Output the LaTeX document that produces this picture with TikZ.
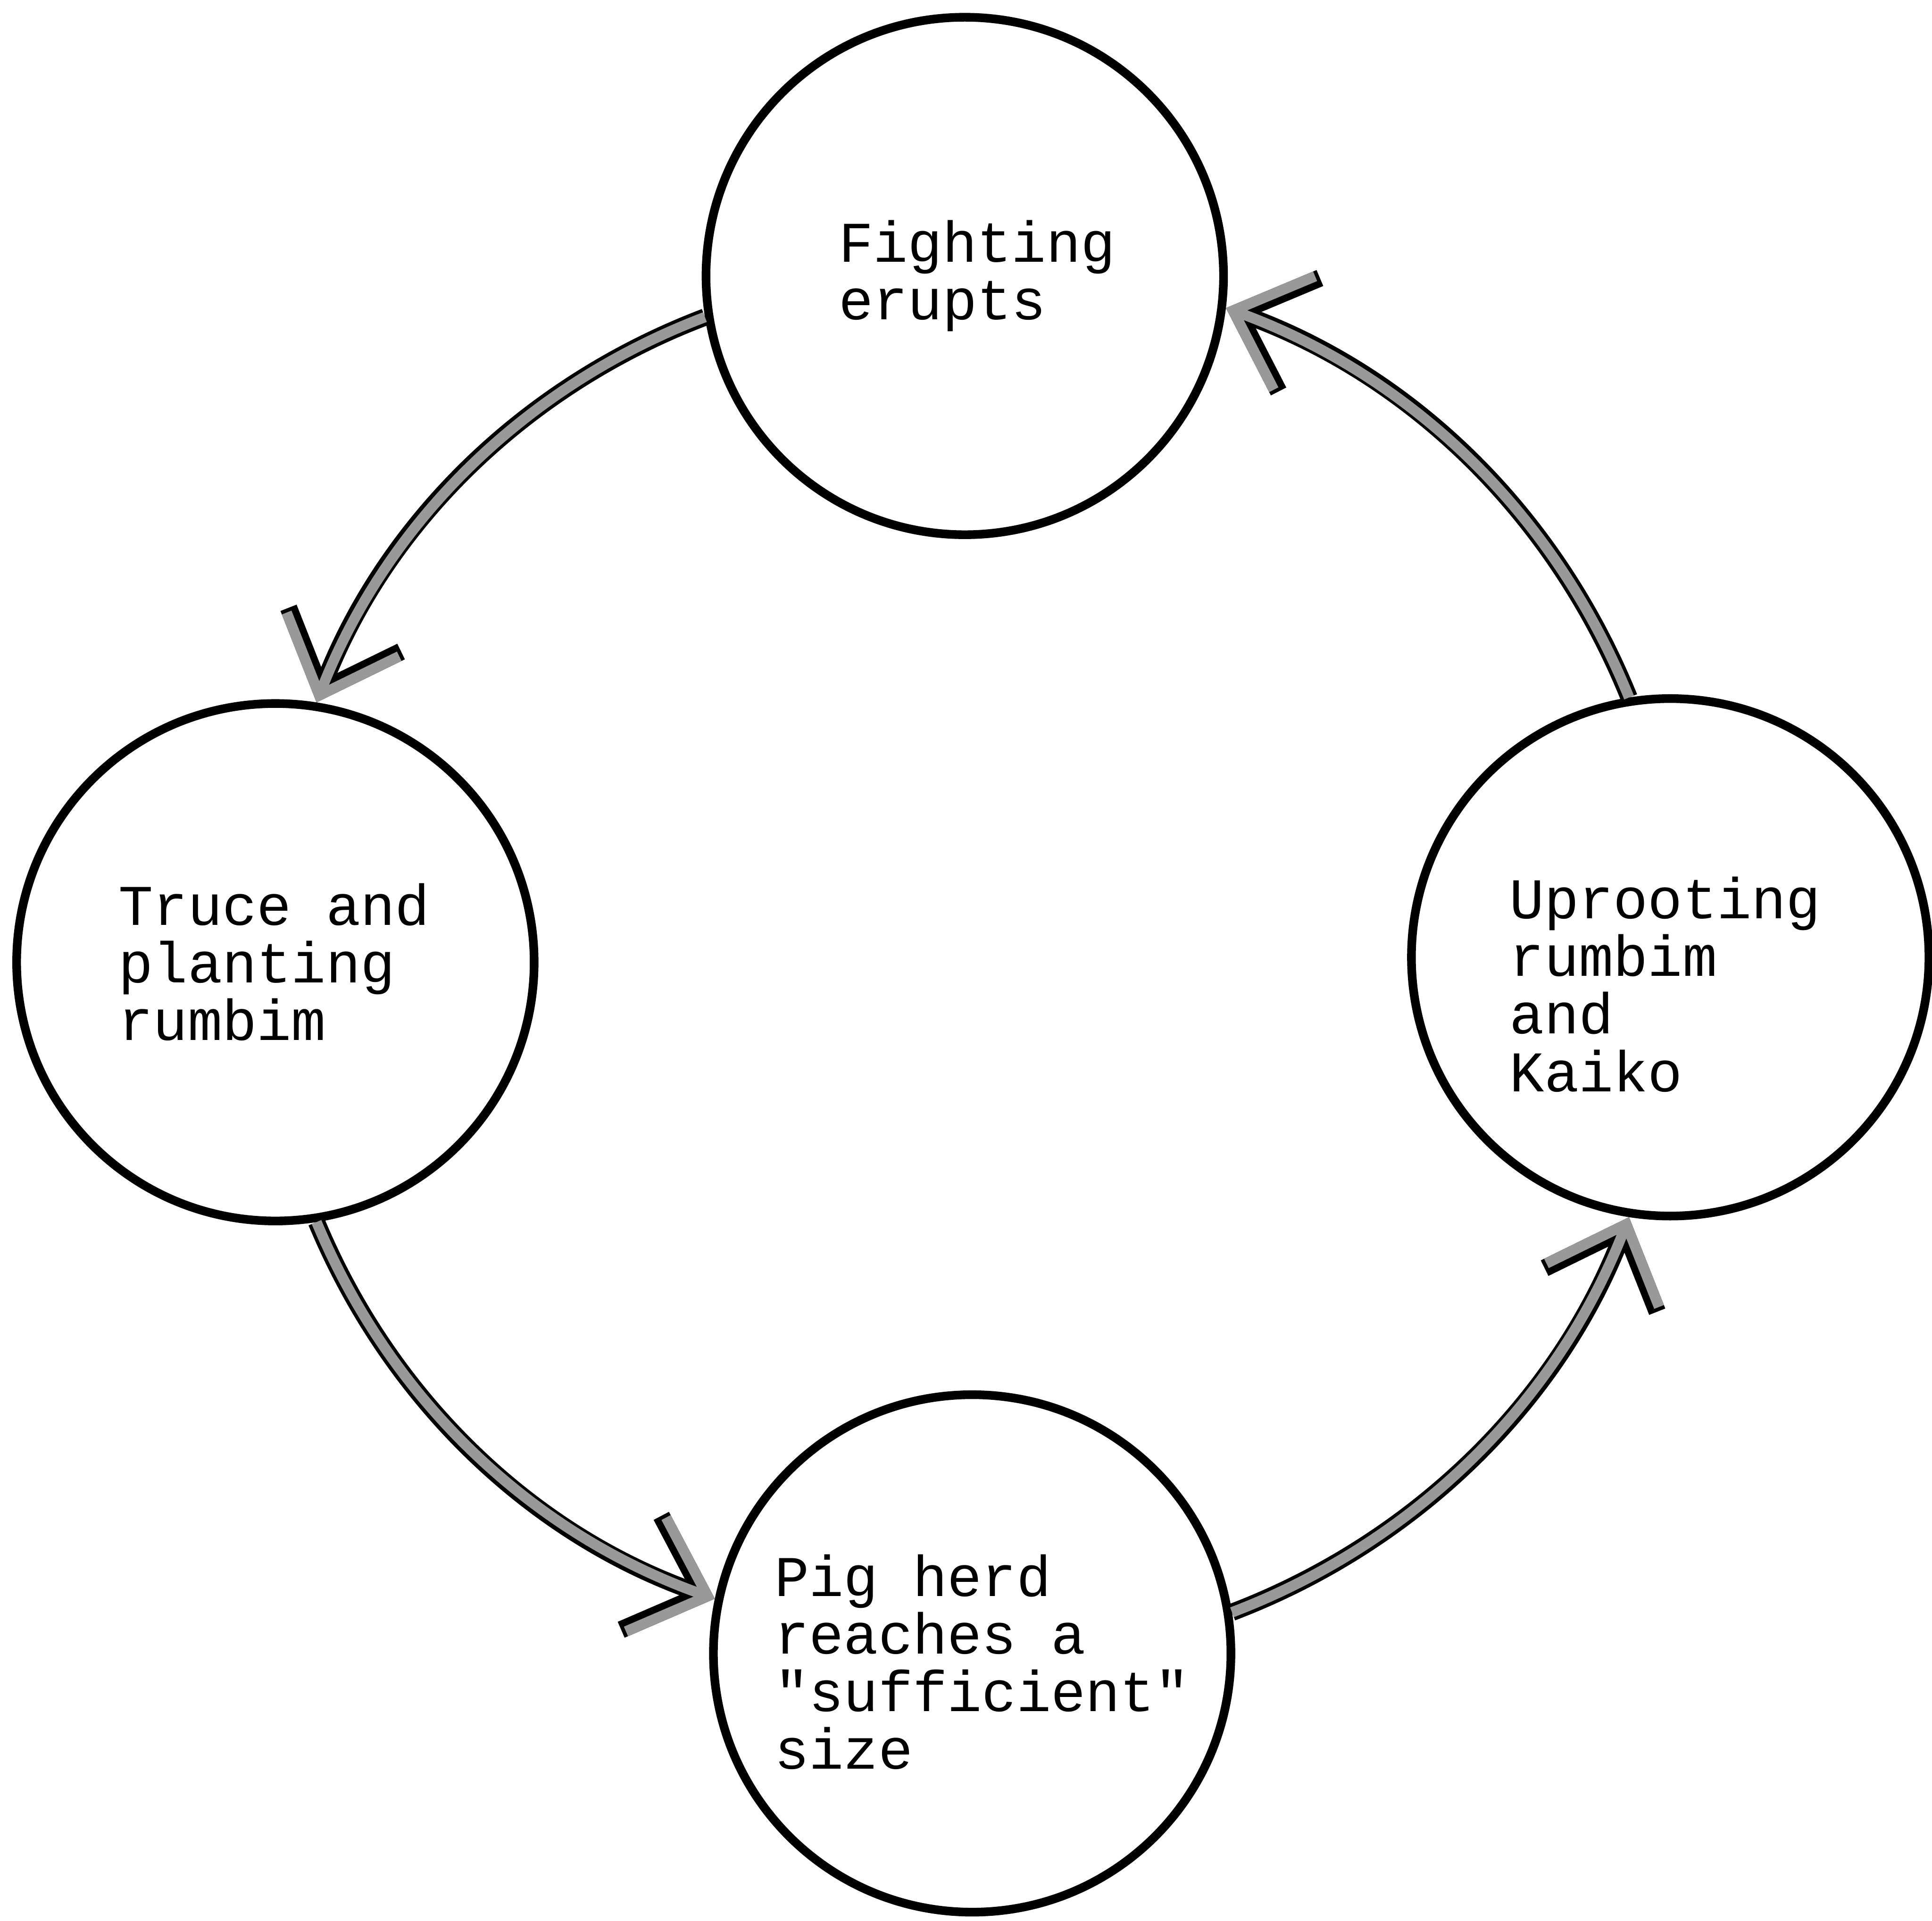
\documentclass[tikz,border=0pt]{standalone}
\usepackage{fontspec}
\setmonofont{Liberation Mono}
\usepackage{tikz}
\usetikzlibrary{
  arrows.meta
}
\tikzset{stage/.style={
  circle,
  draw, line width=2pt,
  minimum size=4.2cm, inner sep=0pt
}}
\tikzset{words/.style={
  align=left, inner sep=0pt,
  font=\fontsize{13.3}{13.3}\selectfont
}}
\tikzset{flow/.style={
  line width=2.4pt, draw=black!40,
  -{Straight Barb[length=5.3mm,width=9.8mm]},
  preaction={draw=black, line width=4pt, -{Straight Barb[length=5.3mm,width=9.8mm]}}
}}
\providecommand{\typed}[1]{{\ttfamily #1}}

\begin{document}
\begin{tikzpicture}
    \useasboundingbox (0,0) rectangle (15.68,-15.59);
    \node (fight) [stage] at (7.83,-2.24) {};
    \node (truce) [stage] at (2.235,-7.81) {};
    \node (uproot) [stage] at (13.555,-7.77) {};
    \node (pig) [stage] at (7.89,-13.42) {};
    \node (fightText) [words] at ([shift={(0.1,0)}]fight) {\typed{Fighting}\\\typed{erupts}};
    \node (truceText) [words] at ([shift={(-0.01,0)}]truce) {\typed{Truce and}\\\typed{planting}\\\typed{rumbim}};
    \node (uprootText) [words] at ([shift={(-0.04,-0.22)}]uproot) {\typed{Uprooting}\\\typed{rumbim}\\\typed{and}\\\typed{Kaiko}};
    \node (pigText) [words] at ([shift={(0.08,-0.07)}]pig) {\typed{Pig herd}\\\typed{reaches a}\\\typed{"sufficient"}\\\typed{size}};
    \draw [flow] (fight.189) to[bend right=24,looseness=0.9] (truce.81);
    \draw [flow] (truce.279) to[bend right=24,looseness=0.9] (pig.168);
    \draw [flow] (pig.9) to[bend right=24,looseness=0.9] (uproot.261);
    \draw [flow] (uproot.99) to[bend right=24,looseness=0.9] (fight.353);
  \end{tikzpicture}
\end{document}
